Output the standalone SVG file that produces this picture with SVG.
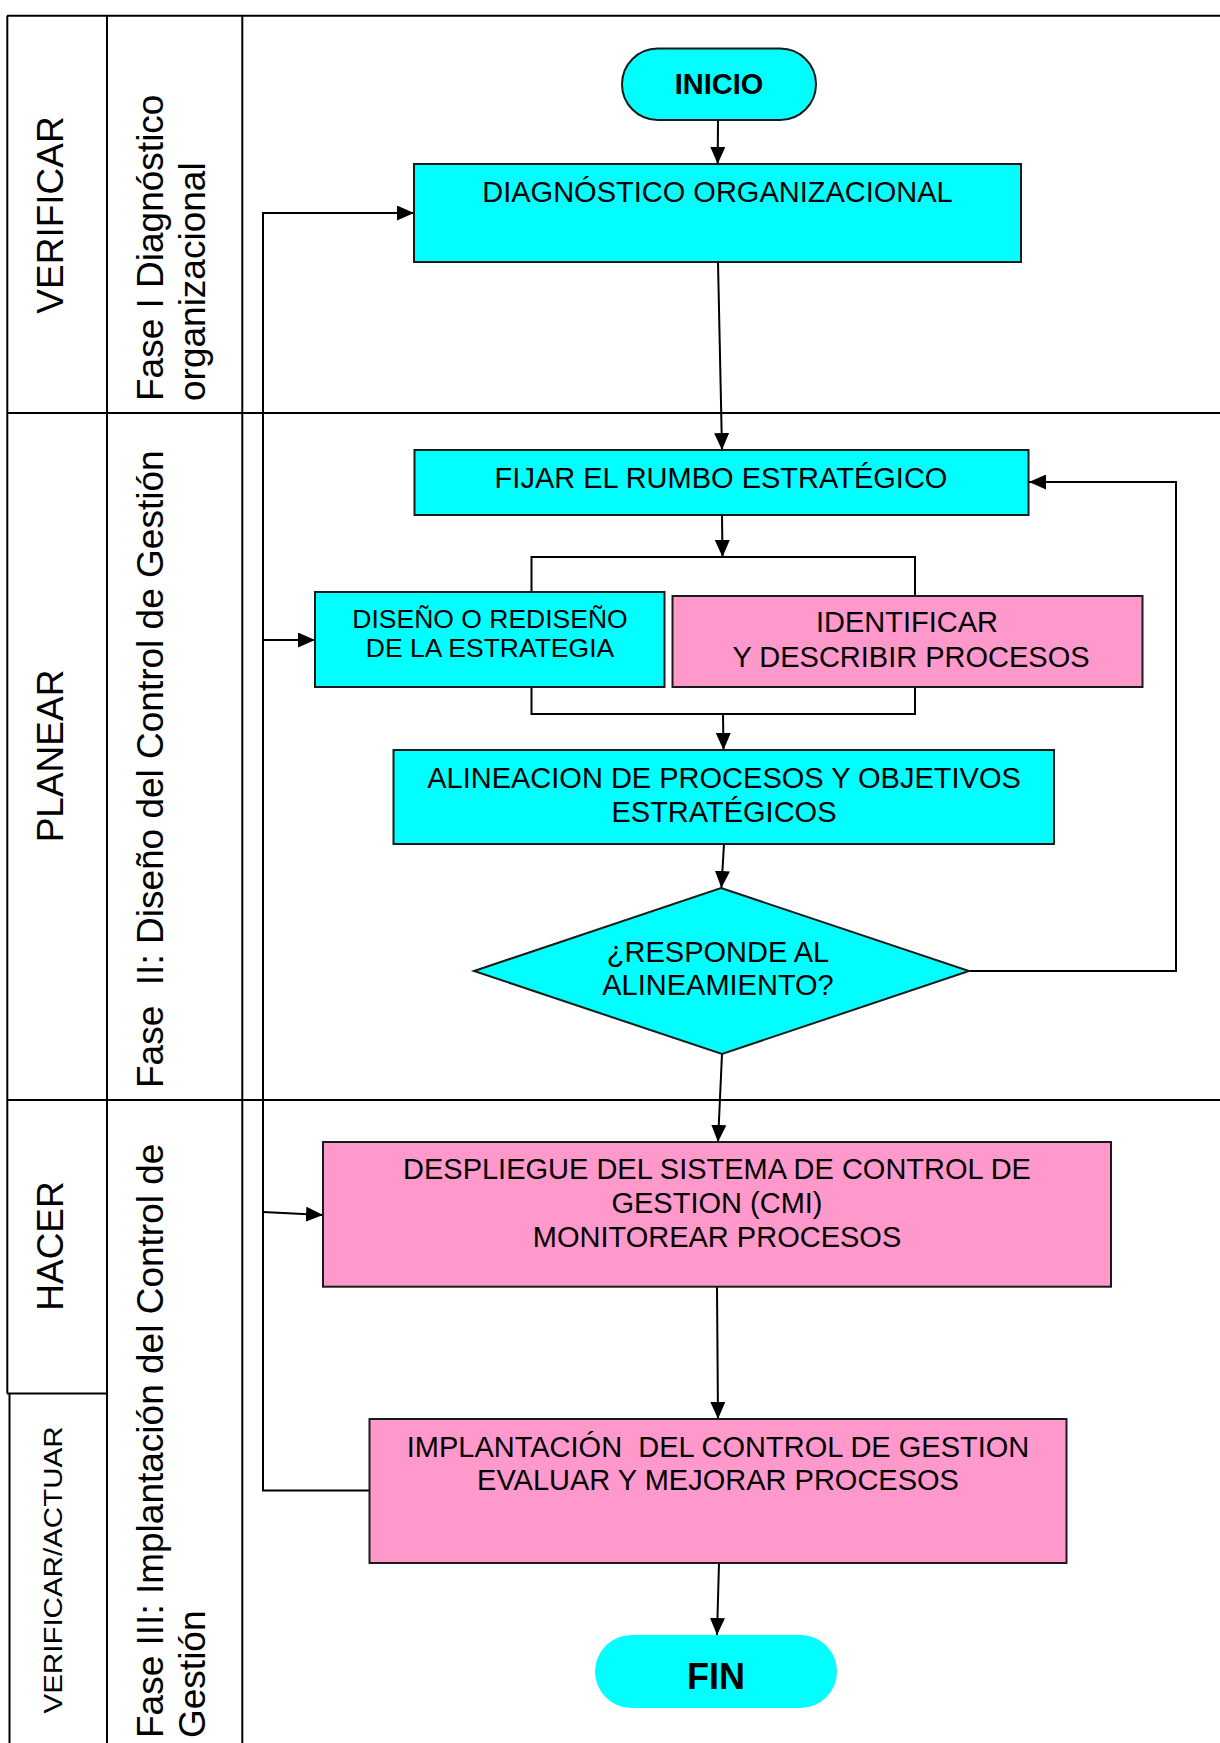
<svg xmlns="http://www.w3.org/2000/svg" width="1220" height="1743" viewBox="0 0 1220 1743">
  <defs>
    <marker id="arrow" markerUnits="userSpaceOnUse" markerWidth="17" markerHeight="15" refX="17" refY="7.5" orient="auto">
      <path d="M0,0 L17,7.5 L0,15 z" fill="#000"/>
    </marker>
    <style>
      .frame { stroke: #000; stroke-width: 2; fill: none; }
      .conn { stroke: #000; stroke-width: 2; fill: none; }
      .arr { marker-end: url(#arrow); }
      .cyan { fill: #00FFFF; stroke: #1a1a1a; stroke-width: 2; }
      .pink { fill: #FF99CC; stroke: #1a1a1a; stroke-width: 2; }
      .lbl { font-family: "Liberation Sans", Arial, sans-serif; fill: #000; }
      .box { font-size: 29px; text-anchor: middle; }
      .lane { font-size: 37px; }
      .mid { text-anchor: middle; }
      .term { font-weight: bold; text-anchor: middle; }
    </style>
  </defs>

  <rect width="1220" height="1743" fill="#fff"/>

  <!-- swimlane frame -->
  <g id="frame">
    <path class="frame" d="M7,15.7 H1220"/>
    <path class="frame" d="M7.3,15.7 V1393.5"/>
    <path class="frame" d="M9.5,1393.5 V1743"/>
    <path class="frame" d="M107,15.7 V1743"/>
    <path class="frame" d="M242.3,15.7 V1743"/>
    <path class="frame" d="M7,413 H1220"/>
    <path class="frame" d="M7,1100 H1220"/>
    <path class="frame" d="M7,1393.5 H107"/>
  </g>

  <!-- lane titles -->
  <g id="lane-labels" class="lbl">
    <text class="lane mid" transform="translate(62.5,215) rotate(-90)">VERIFICAR</text>
    <text class="lane mid" transform="translate(62.5,756) rotate(-90)">PLANEAR</text>
    <text class="lane mid" transform="translate(62.5,1246) rotate(-90)">HACER</text>
    <text class="mid" font-size="26" textLength="287" lengthAdjust="spacingAndGlyphs" transform="translate(61.5,1570) rotate(-90)">VERIFICAR/ACTUAR</text>

    <text class="lane" transform="translate(163,401) rotate(-90)">Fase I Diagnóstico</text>
    <text class="lane" transform="translate(205,401) rotate(-90)">organizacional</text>
    <text class="lane" xml:space="preserve" transform="translate(163,1088) rotate(-90)">Fase  II: Diseño del Control de Gestión</text>
    <text class="lane" transform="translate(163,1738) rotate(-90)">Fase III: Implantación del Control de</text>
    <text class="lane" transform="translate(205,1738) rotate(-90)">Gestión</text>
  </g>

  <!-- connectors -->
  <g id="connectors">
    <path class="conn arr" d="M718,120 L717.7,164"/>
    <path class="conn arr" d="M718,262 L722,450"/>
    <path class="conn arr" d="M722,515 L722.5,557"/>
    <path class="conn" d="M531.5,592 V557 H915 V596"/>
    <path class="conn" d="M531.5,687 V714 H915 V687"/>
    <path class="conn arr" d="M723,714 L723.5,750"/>
    <path class="conn arr" d="M724,844 L721.4,888"/>
    <path class="conn arr" d="M969,971 H1176 V482 H1029"/>
    <path class="conn arr" d="M722,1054 L718,1142"/>
    <path class="conn arr" d="M717,1287 L718,1419"/>
    <path class="conn arr" d="M719,1563 L717,1635"/>
    <path class="conn arr" d="M369.5,1490.5 H263 V213 H414"/>
    <path class="conn arr" d="M263,640 H315"/>
    <path class="conn arr" d="M263,1212 L323,1215"/>
  </g>

  <g id="inicio">
    <rect class="cyan" x="622" y="48.5" width="194" height="71.5" rx="35.7" ry="35.7"/>
    <text class="lbl term" x="719" y="94" font-size="29">INICIO</text>
  </g>

  <g id="diagnostico">
    <rect class="cyan" x="414" y="164" width="607" height="98"/>
    <text class="lbl box" x="717.5" y="202">DIAGNÓSTICO ORGANIZACIONAL</text>
  </g>

  <g id="fijar-rumbo">
    <rect class="cyan" x="414.5" y="450" width="614" height="65"/>
    <text class="lbl box" x="721" y="488">FIJAR EL RUMBO ESTRATÉGICO</text>
  </g>

  <g id="diseno-estrategia">
    <rect class="cyan" x="315" y="592" width="349.5" height="95"/>
    <text class="lbl mid" font-size="26.5" x="490" y="627.7">DISEÑO O REDISEÑO</text>
    <text class="lbl mid" font-size="26.5" x="490" y="657.3">DE LA ESTRATEGIA</text>
  </g>

  <g id="identificar-procesos">
    <rect class="pink" x="672.5" y="596" width="470" height="91"/>
    <text class="lbl box" x="907" y="632.3">IDENTIFICAR</text>
    <text class="lbl box" x="911" y="666.7">Y DESCRIBIR PROCESOS</text>
  </g>

  <g id="alineacion">
    <rect class="cyan" x="393.5" y="750" width="660.5" height="94"/>
    <text class="lbl box" x="724" y="788.3">ALINEACION DE PROCESOS Y OBJETIVOS</text>
    <text class="lbl box" x="724" y="821.7">ESTRATÉGICOS</text>
  </g>

  <g id="decision">
    <polygon class="cyan" points="721,888 969,971 722,1054 474,971"/>
    <text class="lbl box" x="718" y="961.7">¿RESPONDE AL</text>
    <text class="lbl box" x="718" y="995">ALINEAMIENTO?</text>
  </g>

  <g id="despliegue">
    <rect class="pink" x="323" y="1142" width="788" height="144.7"/>
    <text class="lbl box" x="717" y="1179">DESPLIEGUE DEL SISTEMA DE CONTROL DE</text>
    <text class="lbl box" x="717" y="1212.7">GESTION (CMI)</text>
    <text class="lbl box" x="717" y="1246.7">MONITOREAR PROCESOS</text>
  </g>

  <g id="implantacion">
    <rect class="pink" x="369.5" y="1419" width="697" height="144"/>
    <text class="lbl box" xml:space="preserve" x="718" y="1456.7">IMPLANTACIÓN  DEL CONTROL DE GESTION</text>
    <text class="lbl box" x="718" y="1490">EVALUAR Y MEJORAR PROCESOS</text>
  </g>

  <g id="fin">
    <rect x="595" y="1635" width="242" height="73" rx="36.5" ry="36.5" fill="#00FFFF"/>
    <text class="lbl term" x="716" y="1689" font-size="36">FIN</text>
  </g>
</svg>
